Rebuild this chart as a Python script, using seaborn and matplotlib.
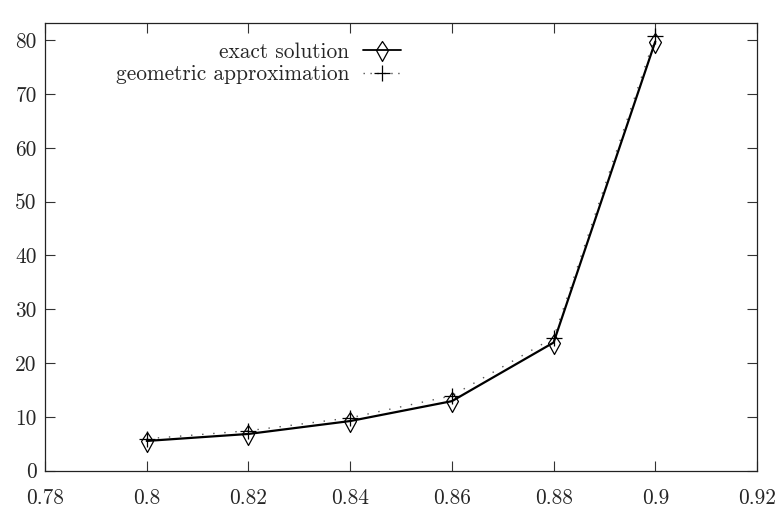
import matplotlib
matplotlib.use("Agg")
import matplotlib.pyplot as plt
import seaborn as sns
import numpy as np
from matplotlib.path import Path
from matplotlib.lines import Line2D

# ---- data ----
x_vals = [0.80, 0.82, 0.84, 0.86, 0.88, 0.90]
exact_vals = [5.5, 6.8, 9.2, 12.9, 23.8, 79.8]
geom_vals = [5.9, 7.4, 9.8, 13.9, 24.7, 80.8]
x_ticks = [0.78, 0.80, 0.82, 0.84, 0.86, 0.88, 0.90, 0.92]
x_tick_labels = ["0.78", "0.8", "0.82", "0.84", "0.86", "0.88", "0.9", "0.92"]
y_ticks = [0, 10, 20, 30, 40, 50, 60, 70, 80]
y_tick_labels = ["0", "10", "20", "30", "40", "50", "60", "70", "80"]
label_exact = "exact solution"
label_geom = "geometric approximation"

sns.set_style("ticks")
plt.rcParams["font.family"] = ["cmr10", "DejaVu Serif"]
plt.rcParams["axes.formatter.use_mathtext"] = True
plt.rcParams["mathtext.fontset"] = "cm"

fs = 15.4

fig = plt.figure(figsize=(7.78, 5.07), dpi=100)
ax = fig.add_axes([45 / 778, 1 - 470.5 / 507, (757 - 45) / 778, (470.5 - 22.7) / 507])

# diamond marker slightly lower than the data point (gnuplot style)
diamond = Path([(0, 0.9), (0.6, 0), (0, -1.1), (-0.6, 0), (0, 0.9)],
               [Path.MOVETO, Path.LINETO, Path.LINETO, Path.LINETO, Path.CLOSEPOLY])

sns.lineplot(x=x_vals, y=geom_vals, ax=ax, color="#555555", linewidth=1.0,
             linestyle=(0, (1, 7)), marker="+", markersize=11,
             markeredgewidth=0.9, markeredgecolor="black", zorder=2)
sns.lineplot(x=x_vals, y=exact_vals, ax=ax, color="black", linewidth=1.6,
             marker=diamond, markersize=15.8, markerfacecolor="none",
             markeredgecolor="black", markeredgewidth=0.9, zorder=3)

ax.set_xlim(0.78, 0.92)
ax.set_ylim(0, 83.3)
ax.set_xticks(x_ticks)
ax.set_xticklabels(x_tick_labels)
ax.set_yticks(y_ticks)
ax.set_yticklabels(y_tick_labels)
ax.tick_params(axis="both", direction="in", length=7.2, width=0.8, color="#333333",
               labelsize=fs, top=True, right=True)
ax.tick_params(axis="x", pad=13)
ax.tick_params(axis="y", pad=6)
for s in ax.spines.values():
    s.set_linewidth(0.9)
    s.set_color("#222222")
ax.set_xlabel("")
ax.set_ylabel("")

h_exact = Line2D([], [], color="black", linewidth=1.3, marker=diamond, markersize=15.8,
                 markerfacecolor="none", markeredgecolor="black", markeredgewidth=0.9)
h_geom = Line2D([], [], color="#555555", linewidth=1.0, linestyle=(0, (1, 4)),
                marker="+", markersize=11, markeredgewidth=0.9, markeredgecolor="black")
ax.legend([h_exact, h_geom], [label_exact, label_geom], loc="upper right",
          bbox_to_anchor=(401 / 778, 1 - 42 / 507), bbox_transform=fig.transFigure,
          frameon=False, markerfirst=False, fontsize=fs, handlelength=1.78,
          handletextpad=0.65, borderpad=0, borderaxespad=0, labelspacing=0.16)

fig.savefig("out.png", dpi=100)
